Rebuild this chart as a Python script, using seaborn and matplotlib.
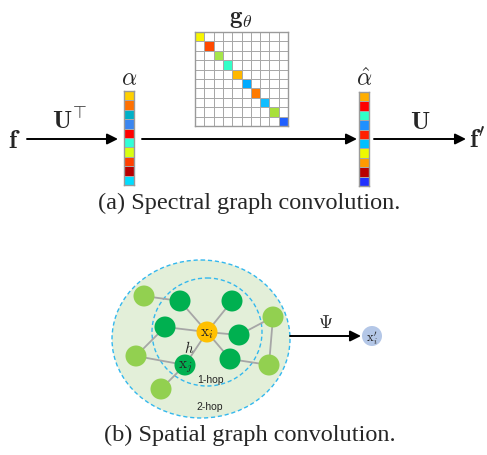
import numpy as np
import matplotlib
matplotlib.use("Agg")
import matplotlib.pyplot as plt
from matplotlib.colors import ListedColormap
from matplotlib.patches import Ellipse, Circle
import seaborn as sns

# ---------------- data ----------------
diag_colors = ["#f7f500", "#ff4a00", "#a6e64a", "#33ffc8", "#ffb700",
               "#00aaff", "#ff7a00", "#12bdff", "#a8e03a", "#1f5fff"]
alpha_colors = ["#ffd000", "#ff7000", "#00b0c8", "#3a86f0", "#ff0000",
                "#30ffd8", "#d8ff10", "#ff4000", "#b80000", "#00ddff"]
alpha_hat_colors = ["#ffae00", "#ff0000", "#30ffc8", "#2090ff", "#ff2000",
                    "#00c0ff", "#eef800", "#ff9a00", "#b80000", "#2030ff"]
n_cells = 10

# spatial graph
center_node = (207, 333)
hop1_nodes = [(180, 302), (232, 302), (165, 328), (239, 336), (230, 360), (185, 366)]
hop2_nodes = [(144, 297), (273, 318), (136, 357), (269, 366), (161, 390)]
extra_edges = [((144, 297), (180, 302)), ((165, 328), (136, 357)),
               ((136, 357), (185, 366)), ((185, 366), (161, 390)),
               ((239, 336), (273, 318)), ((273, 318), (269, 366)),
               ((230, 360), (269, 366))]
out_node = (372, 337)

W, H = 487, 456
sns.set_theme(style="white")
plt.rcParams["mathtext.fontset"] = "cm"
plt.rcParams["font.family"] = ["Liberation Serif", "DejaVu Serif"]

fig = plt.figure(figsize=(W / 100, H / 100), dpi=100)
ax = fig.add_axes([0, 0, 1, 1])
ax.set_xlim(0, W)
ax.set_ylim(H, 0)
ax.axis("off")


def px_axes(x0, y0, x1, y1):
    return fig.add_axes([x0 / W, 1 - y1 / H, (x1 - x0) / W, (y1 - y0) / H])


def grid_heatmap(axh, data, colors):
    cmap = ListedColormap(["white"] + colors)
    sns.heatmap(data, ax=axh, cmap=cmap, vmin=-0.5, vmax=len(colors) + 0.5,
                cbar=False, linewidths=0.6, linecolor="#a8a8a8",
                xticklabels=False, yticklabels=False, square=False)
    for s in axh.spines.values():
        s.set_visible(True)
        s.set_color("#9a9a9a")
        s.set_linewidth(1.0)


# matrix g_theta
mat = np.zeros((n_cells, n_cells))
for i in range(n_cells):
    mat[i, i] = i + 1
grid_heatmap(px_axes(195, 33, 288, 127), mat, diag_colors)

# vectors
vec = np.arange(1, n_cells + 1).reshape(-1, 1)
grid_heatmap(px_axes(124, 92, 134, 186), vec, alpha_colors)
grid_heatmap(px_axes(359, 93, 369, 187), vec, alpha_hat_colors)

# labels
ax.text(241, 23, r"$\mathbf{g}_\theta$", fontsize=18, ha="center", va="baseline")
ax.text(129, 85, r"$\alpha$", fontsize=17, ha="center", va="baseline")
ax.text(364, 86, r"$\hat{\alpha}$", fontsize=17, ha="center", va="baseline")
ax.text(14, 148, r"$\mathbf{f}$", fontsize=19, ha="center", va="baseline")
ax.text(477, 148, r"$\mathbf{f}'$", fontsize=19, ha="center", va="baseline")
ax.text(70, 129, r"$\mathbf{U}^{\!\top}$", fontsize=18, ha="center", va="baseline")
ax.text(420, 129, r"$\mathbf{U}$", fontsize=18, ha="center", va="baseline")

arrow_kw = dict(arrowstyle="-|>", lw=1.4, color="black", mutation_scale=16,
                shrinkA=0, shrinkB=0)
ax.annotate("", xy=(118, 140), xytext=(27, 140), arrowprops=arrow_kw)
ax.annotate("", xy=(357, 140), xytext=(142, 140), arrowprops=arrow_kw)
ax.annotate("", xy=(466, 140), xytext=(374, 140), arrowprops=arrow_kw)

ax.text(249, 209, "(a) Spectral graph convolution.", fontsize=17.5,
        ha="center", va="baseline")

# spatial graph
ax.add_patch(Ellipse((201, 340), 178, 158, facecolor="#e3efd9",
                     edgecolor="#33b8ee", lw=1.0, ls=(0, (3, 2)), zorder=1))
ax.add_patch(Ellipse((207, 333), 110, 108, facecolor="none",
                     edgecolor="#33b8ee", lw=1.0, ls=(0, (3, 2)), zorder=2))

edge_kw = dict(color="#a6a6a6", lw=1.3, zorder=3)
for p in hop1_nodes:
    ax.plot([center_node[0], p[0]], [center_node[1], p[1]], **edge_kw)
for a, b in extra_edges:
    ax.plot([a[0], b[0]], [a[1], b[1]], **edge_kw)

r = 10.5
for p in hop2_nodes:
    ax.add_patch(Circle(p, r, color="#92d050", zorder=4, lw=0))
for p in hop1_nodes:
    ax.add_patch(Circle(p, r, color="#00b050", zorder=4, lw=0))
ax.add_patch(Circle(center_node, r, color="#ffc000", zorder=4, lw=0))

ax.text(center_node[0], center_node[1] + 1, r"$\mathrm{x}_i$", fontsize=11,
        ha="center", va="center", zorder=5)
ax.text(hop1_nodes[5][0], hop1_nodes[5][1] + 1, r"$\mathrm{x}_j$", fontsize=11,
        ha="center", va="center", zorder=5)
ax.text(189, 348, r"$h$", fontsize=11, ha="center", va="center", zorder=5)
ax.text(210, 380, "1-hop", fontsize=7.5, family=["Liberation Sans", "DejaVu Sans"],
        ha="center", va="center", zorder=5)
ax.text(210, 407, "2-hop", fontsize=7.5, family=["Liberation Sans", "DejaVu Sans"],
        ha="center", va="center", zorder=5)

ax.annotate("", xy=(361, 337), xytext=(290, 337), arrowprops=arrow_kw)
ax.text(326, 328, r"$\Psi$", fontsize=13, ha="center", va="baseline")
ax.add_patch(Circle(out_node, 10, color="#b4c7e7", zorder=4, lw=0))
ax.text(out_node[0], out_node[1] + 1, r"$\mathrm{x}_i'$", fontsize=9,
        ha="center", va="center", zorder=5)

ax.text(250, 441, "(b) Spatial graph convolution.", fontsize=17.5,
        ha="center", va="baseline")

fig.savefig("out.png", dpi=100)
